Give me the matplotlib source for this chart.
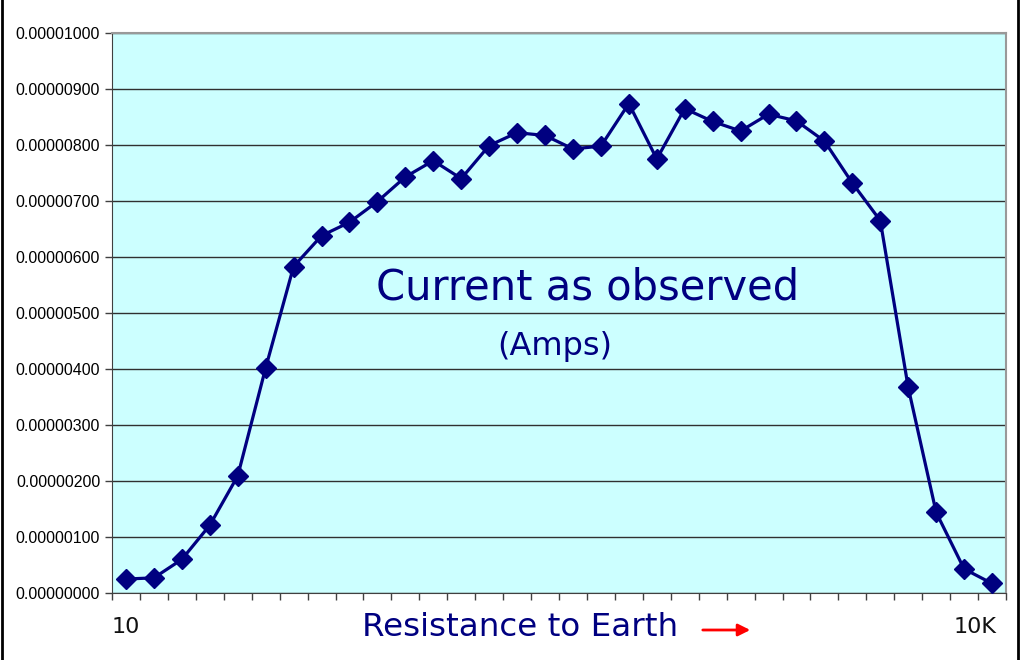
import matplotlib.pyplot as plt
from matplotlib.lines import Line2D
from matplotlib.patches import FancyArrowPatch
import numpy as np

# Current readings (Amps), one per resistance step from 10 to 10K
current = [0.25, 0.27, 0.60, 1.21, 2.09, 4.02, 5.83, 6.38, 6.62, 6.99,
           7.43, 7.72, 7.40, 7.99, 8.22, 8.17, 7.93, 7.98, 8.74, 7.75,
           8.65, 8.42, 8.25, 8.55, 8.43, 8.07, 7.32, 6.65, 3.67, 1.44,
           0.43, 0.17]
current = np.array(current) * 1e-6
x_labels = {0: '10', 30.4: '10K'}
y_ticks = np.arange(0, 11) * 1e-6

navy = '#000080'

fig = plt.figure(figsize=(10.24, 6.6), dpi=100)
ax = fig.add_axes([112 / 1024, 67 / 660, 894 / 1024, 560 / 660])
ax.set_facecolor('#CCFFFF')

x = np.arange(len(current))
ax.plot(x, current, color=navy, lw=2.3, marker='D', markersize=10,
        markerfacecolor=navy, markeredgecolor=navy, zorder=3)

ax.set_xlim(-0.5, len(current) - 0.5)
ax.set_ylim(0, 1e-5)
ax.set_yticks(y_ticks)
ax.set_yticklabels([f'{v:.8f}' for v in y_ticks], fontsize=11.5,
                   family='Liberation Sans')
ax.set_xticks(np.arange(len(current) + 1) - 0.5)
ax.set_xticklabels([])
ax.tick_params(axis='both', direction='out', length=5, width=1, color='#404040')
ax.grid(axis='y', color='#303030', lw=1)
ax.set_axisbelow(True)

for side in ['top', 'right']:
    ax.spines[side].set_color('#999999')
    ax.spines[side].set_linewidth(1.5)
for side in ['left', 'bottom']:
    ax.spines[side].set_color('#404040')

for pos, lab in x_labels.items():
    ax.text(pos, -0.6e-6, lab, ha='center', va='center', fontsize=16,
            color='#111111')

ax.text(0.532, 0.545, 'Current as observed', transform=ax.transAxes,
        ha='center', va='center', fontsize=30, color=navy)
ax.text(0.495, 0.44, '(Amps)', transform=ax.transAxes,
        ha='center', va='center', fontsize=23, color=navy)

fig.text(520 / 1024, 1 - 628 / 660, 'Resistance to Earth', ha='center',
         va='center', fontsize=23.4, color=navy)
fig.add_artist(FancyArrowPatch(
    (700 / 1024, 1 - 630 / 660), (753 / 1024, 1 - 630 / 660),
    transform=fig.transFigure, arrowstyle='-|>', mutation_scale=18,
    color='red', lw=2))

# frame lines at left and right of the figure
fig.add_artist(Line2D([1.5 / 1024, 1.5 / 1024], [0, 1], color='black', lw=2,
                      transform=fig.transFigure))
fig.add_artist(Line2D([1018 / 1024, 1018 / 1024], [0, 1], color='black', lw=2,
                      transform=fig.transFigure))

plt.savefig('out.png', dpi=100)
